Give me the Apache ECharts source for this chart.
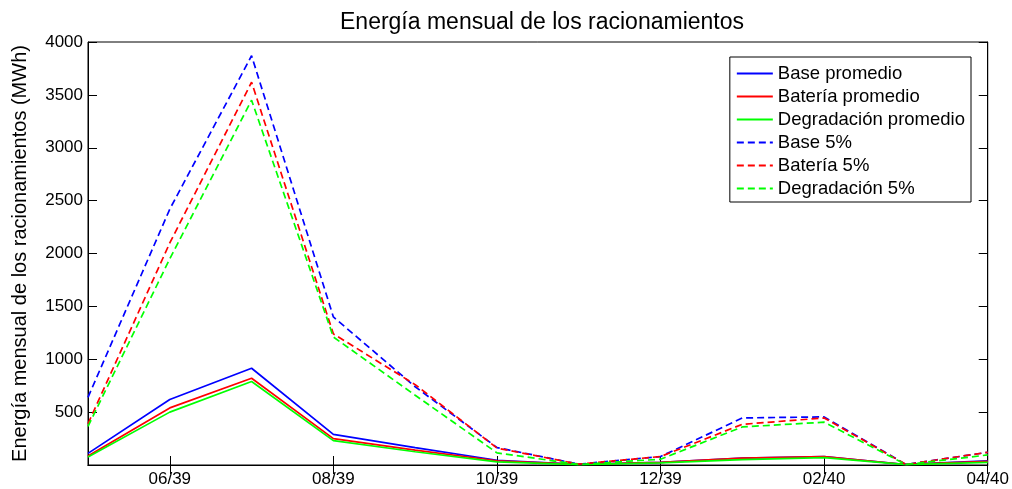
<!DOCTYPE html>
<html>
<head>
<meta charset="utf-8">
<script src="https://cdn.jsdelivr.net/npm/echarts@6/dist/echarts.min.js"></script>
<style>
html,body{margin:0;padding:0;background:#fff;}
#chart{width:1012px;height:489px;}
</style>
</head>
<body>
<div id="chart"></div>
<script>
var months = ['05/39','06/39','07/39','08/39','09/39','10/39','11/39','12/39','01/40','02/40','03/40','04/40'];
var yTicks = [0, 500, 1000, 1500, 2000, 2500, 3000, 3500, 4000];

var basePromedio       = [110, 620, 915, 290, 165, 45, 5, 25, 65, 80, 5, 40];
var bateriaPromedio    = [85, 540, 820, 250, 140, 40, 5, 25, 65, 80, 5, 35];
var degradacionPromedio= [75, 500, 790, 230, 125, 30, 3, 20, 50, 70, 3, 25];
var base5              = [640, 2420, 3870, 1400, 740, 165, 8, 80, 445, 455, 5, 120];
var bateria5           = [390, 2100, 3620, 1240, 760, 160, 8, 80, 385, 445, 5, 120];
var degradacion5       = [365, 1950, 3450, 1210, 660, 115, 5, 55, 360, 405, 4, 95];

var FONT = 'Liberation Sans';
function mk(name, data, color, dashed) {
  return {
    name: name, type: 'line', data: data, symbol: 'none', smooth: false,
    lineStyle: {color: color, width: 1.7, type: dashed ? [7, 4] : 'solid'},
    itemStyle: {color: color},
    emphasis: {disabled: true}, animation: false
  };
}
var oddOnly = function (i) { return i % 2 === 1; };

var chart = echarts.init(document.getElementById('chart'), null, {renderer: 'canvas'});
chart.setOption({
  animation: false,
  backgroundColor: '#fff',
  title: {
    text: 'Energía mensual de los racionamientos',
    left: 537, top: 6, textAlign: 'center',
    textStyle: {fontFamily: FONT, fontSize: 23, fontWeight: 'normal', color: '#000'}
  },
  grid: {left: 88, right: 24, top: 42, bottom: 24, show: true, borderColor: '#000', borderWidth: 1, backgroundColor: 'transparent'},
  legend: {
    orient: 'vertical', right: 41, top: 57,
    itemWidth: 36, itemHeight: 10, itemGap: 4,
    padding: [7, 6, 4, 6],
    borderColor: '#000', borderWidth: 1, backgroundColor: '#fff',
    itemStyle: {opacity: 0},
    textStyle: {fontFamily: FONT, fontSize: 18.5, color: '#000'},
    data: ['Base promedio', 'Batería promedio', 'Degradación promedio', 'Base 5%', 'Batería 5%', 'Degradación 5%']
  },
  xAxis: [{
    type: 'category', data: months, boundaryGap: false,
    axisLine: {show: true, lineStyle: {color: '#000'}},
    axisTick: {show: true, inside: true, length: 9, interval: oddOnly, lineStyle: {color: '#000'}},
    axisLabel: {interval: oddOnly, fontFamily: FONT, fontSize: 17, color: '#000', margin: 6},
    splitLine: {show: false}
  }, {
    type: 'category', data: months, boundaryGap: false, position: 'top',
    axisLine: {show: true, lineStyle: {color: '#000'}},
    axisTick: {show: true, inside: true, length: 9, interval: oddOnly, lineStyle: {color: '#000'}},
    axisLabel: {show: false}, splitLine: {show: false}
  }],
  yAxis: [{
    type: 'value', min: 0, max: 4000, interval: 500,
    name: 'Energía mensual de los racionamientos (MWh)', nameLocation: 'middle', nameGap: 58,
    nameTextStyle: {fontFamily: FONT, fontSize: 20, color: '#000'},
    axisLine: {show: true, lineStyle: {color: '#000'}},
    axisTick: {show: true, inside: true, length: 9, lineStyle: {color: '#000'}},
    axisLabel: {fontFamily: FONT, fontSize: 17, color: '#000', margin: 5,
      formatter: function (v) { return v === 0 ? '' : String(v); }},
    splitLine: {show: false}
  }, {
    type: 'value', min: 0, max: 4000, interval: 500, position: 'right',
    axisLine: {show: true, lineStyle: {color: '#000'}},
    axisTick: {show: true, inside: true, length: 9, lineStyle: {color: '#000'}},
    axisLabel: {show: false}, splitLine: {show: false}
  }],
  series: [
    mk('Base promedio', basePromedio, '#0000ff', false),
    mk('Batería promedio', bateriaPromedio, '#ff0000', false),
    mk('Degradación promedio', degradacionPromedio, '#00ff00', false),
    mk('Base 5%', base5, '#0000ff', true),
    mk('Batería 5%', bateria5, '#ff0000', true),
    mk('Degradación 5%', degradacion5, '#00ff00', true)
  ]
});
</script>
</body>
</html>
